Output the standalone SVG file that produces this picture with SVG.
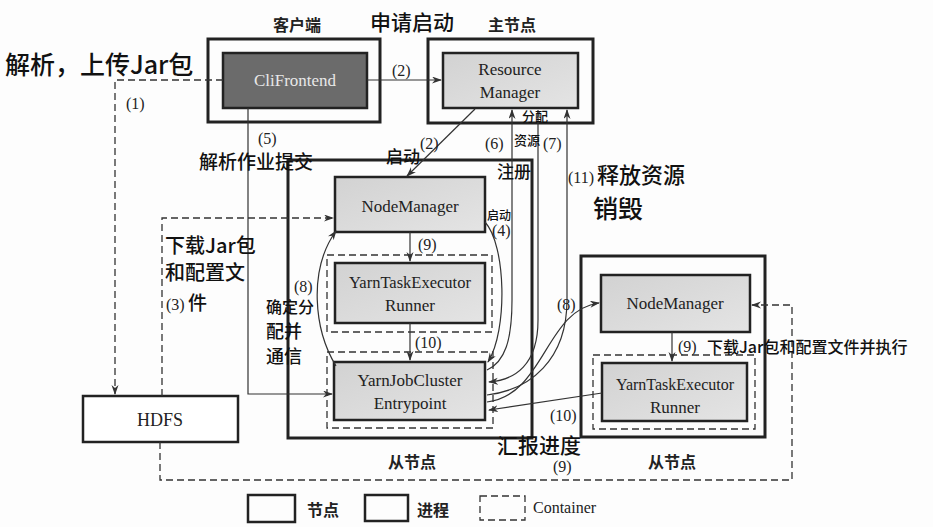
<svg xmlns="http://www.w3.org/2000/svg" width="933" height="527" viewBox="0 0 933 527">
<defs>
<marker id="ah" markerWidth="10" markerHeight="8" refX="9" refY="3.5" orient="auto" markerUnits="userSpaceOnUse">
<path d="M0,0 L10,3.5 L0,7 L3,3.5 z" fill="#333"/>
</marker>
<linearGradient id="g" x1="0" y1="0" x2="1" y2="1">
<stop offset="0" stop-color="#d2d2d2"/><stop offset="1" stop-color="#e4e4e4"/>
</linearGradient>
<style>
.node{fill:none;stroke:#222;stroke-width:3}
.proc{fill:url(#g);stroke:#222;stroke-width:2.5}
.cont{fill:none;stroke:#333;stroke-width:1.3;stroke-dasharray:7 4}
.t{font-family:"Liberation Serif",serif;font-size:17px;fill:#222;text-anchor:middle}
.lb{font-family:"Liberation Serif",serif;font-size:16px;fill:#222}
.cn{font-family:"Noto Sans CJK SC",sans-serif;font-size:16px;font-weight:600;fill:#222}
.hw{font-family:"Noto Sans CJK SC",sans-serif;fill:#111;font-weight:500}
.c{fill:none;stroke:#333;stroke-width:1.2}
.d{fill:none;stroke:#333;stroke-width:1.3;stroke-dasharray:7 4}
</style>
</defs>
<rect width="933" height="527" fill="#fdfdfd"/>

<g id="client">
<text class="cn" x="297" y="31" text-anchor="middle">客户端</text>
<rect class="node" x="208" y="39" width="172" height="83"/>
<rect x="223" y="53" width="144" height="55" fill="#6b6b6b" stroke="#222" stroke-width="2.5"/>
<text class="t" x="295" y="86" style="fill:#e8e8e8">CliFrontend</text>
</g>

<g id="master">
<text class="cn" x="512" y="31" text-anchor="middle">主节点</text>
<rect class="node" x="428" y="39" width="165" height="84"/>
<rect class="proc" x="443" y="53" width="135" height="55"/>
<text class="t" x="510" y="75">Resource</text>
<text class="t" x="510" y="98">Manager</text>
</g>

<g id="hdfs">
<rect x="83" y="396" width="155" height="46" fill="#fff" stroke="#222" stroke-width="2.5"/>
<text class="t" x="160" y="426" style="font-size:18px">HDFS</text>
</g>

<g id="slave1">
<rect class="node" x="288" y="160" width="244" height="278"/>
<text class="cn" x="412" y="468" text-anchor="middle">从节点</text>
</g>
<g id="nm1">
<rect class="proc" x="335" y="177" width="150" height="55"/>
<text class="t" x="410" y="212">NodeManager</text>
</g>
<g id="container1">
<rect class="cont" x="327" y="255" width="165" height="77"/>
</g>
<g id="runner1">
<rect class="proc" x="335" y="263" width="150" height="60"/>
<text class="t" x="410" y="288" style="font-size:16.5px">YarnTaskExecutor</text>
<text class="t" x="410" y="311">Runner</text>
</g>
<g id="container2">
<rect class="cont" x="327" y="352" width="166" height="76"/>
</g>
<g id="entry">
<rect class="proc" x="334" y="362" width="151" height="58"/>
<text class="t" x="410" y="386">YarnJobCluster</text>
<text class="t" x="410" y="409">Entrypoint</text>
</g>

<g id="slave2">
<rect class="node" x="581" y="256" width="184" height="181"/>
<text class="cn" x="672" y="468" text-anchor="middle">从节点</text>
</g>
<g id="nm2">
<rect class="proc" x="601" y="275" width="149" height="57"/>
<text class="t" x="675" y="309">NodeManager</text>
</g>
<g id="container3">
<rect class="cont" x="593" y="355" width="162" height="74"/>
</g>
<g id="runner2">
<rect class="proc" x="602" y="363" width="145" height="58"/>
<text class="t" x="675" y="390" style="font-size:16px">YarnTaskExecutor</text>
<text class="t" x="675" y="413">Runner</text>
</g>

<g id="connectors">
<path class="d" d="M223 80 H115 V394" marker-end="url(#ah)"/>
<path class="c" d="M367 80 H441" marker-end="url(#ah)"/>
<path class="c" d="M475 109 L407 176" marker-end="url(#ah)"/>
<path class="c" d="M248 108 V394 H332" marker-end="url(#ah)"/>
<path class="d" d="M162 396 V218 H333" marker-end="url(#ah)"/>
<path class="d" d="M160 442 V480 H792 V305 H752" marker-end="url(#ah)"/>
<path class="c" d="M410 232 V261" marker-end="url(#ah)"/>
<path class="c" d="M410 323 V360" marker-end="url(#ah)"/>
<path class="c" d="M672 332 V361" marker-end="url(#ah)"/>
<path class="c" d="M602 393 L489 410" marker-end="url(#ah)"/>
<path class="c" d="M485 222 C506 245 508 330 488 362" marker-end="url(#ah)"/>
<path class="c" d="M336 366 C314 330 308 270 336 231" marker-end="url(#ah)"/>
<path class="c" d="M487 370 C505 362 512 340 512 300 V110" marker-end="url(#ah)"/>
<path class="c" d="M538 110 V320 C538 365 515 380 489 382" marker-end="url(#ah)"/>
<path class="c" d="M487 395 C530 390 567 360 567 300 V110" marker-end="url(#ah)"/>
<path class="c" d="M487 402 C545 395 545 310 599 303" marker-end="url(#ah)"/>
</g>

<g id="labels">
<text class="lb" x="126" y="109">(1)</text>
<text class="lb" x="392" y="76">(2)</text>
<text class="lb" x="420" y="149">(2)</text>
<text class="lb" x="258" y="144">(5)</text>
<text class="lb" x="485" y="149">(6)</text>
<text class="lb" x="543" y="149">(7)</text>
<text class="lb" x="568" y="183">(11)</text>
<text class="lb" x="492" y="236">(4)</text>
<text class="lb" x="418" y="250">(9)</text>
<text class="lb" x="415" y="348">(10)</text>
<text class="lb" x="294" y="292">(8)</text>
<text class="lb" x="557" y="310">(8)</text>
<text class="lb" x="678" y="352">(9)</text>
<text class="lb" x="550" y="421">(10)</text>
<text class="lb" x="553" y="472">(9)</text>
<text class="lb" x="166" y="310">(3)</text>
</g>

<g id="handwriting">
<text class="hw" x="5" y="74" font-size="25">解析，上传Jar包</text>
<text class="hw" x="370" y="30" font-size="21">申请启动</text>
<text class="hw" x="199" y="169" font-size="19">解析作业提交</text>
<text class="hw" x="386" y="163" font-size="17">启动</text>
<text class="hw" x="497" y="178" font-size="17">注册</text>
<text class="hw" x="522" y="121" font-size="13">分配</text>
<text class="hw" x="514" y="145" font-size="13">资源</text>
<text class="hw" x="597" y="183" font-size="22">释放资源</text>
<text class="hw" x="593" y="218" font-size="25">销毁</text>
<text class="hw" x="487" y="220" font-size="12">启动</text>
<text class="hw" x="165" y="253" font-size="20">下载Jar包</text>
<text class="hw" x="165" y="280" font-size="20">和配置文</text>
<text class="hw" x="188" y="310" font-size="19">件</text>
<text class="hw" x="266" y="313" font-size="16">确定分</text>
<text class="hw" x="266" y="338" font-size="18">配并</text>
<text class="hw" x="266" y="363" font-size="18">通信</text>
<text class="hw" x="707" y="353" font-size="16">下载Jar包和配置文件并执行</text>
<text class="hw" x="497" y="453" font-size="21">汇报进度</text>
</g>

<g id="legend">
<rect x="248" y="495" width="47" height="27" fill="none" stroke="#222" stroke-width="2.5"/>
<text class="cn" x="307" y="516">节点</text>
<rect x="365" y="495" width="43" height="26" fill="none" stroke="#222" stroke-width="2.5"/>
<text class="cn" x="417" y="516">进程</text>
<rect class="cont" x="480" y="496" width="45" height="24"/>
<text class="lb" x="533" y="513">Container</text>
</g>
</svg>
